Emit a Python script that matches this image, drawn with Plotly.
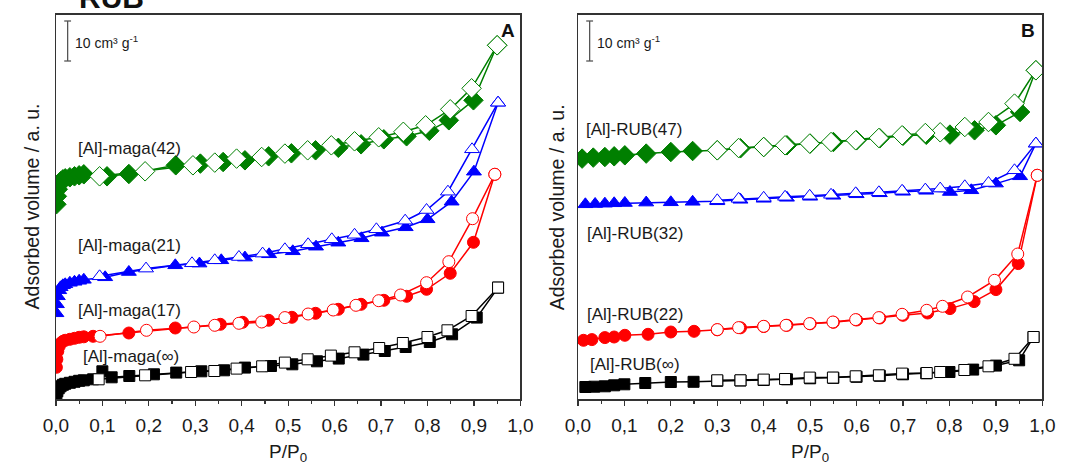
import plotly.graph_objects as go

# ---------------- data (P/P0, adsorbed volume in arbitrary units) ----------------
# Panel A : [Al]-maga samples
A_INF_ADS_P = [0.001,0.003,0.006,0.01,0.015,0.02,0.03,0.04,0.05,0.06,0.08,0.10,0.12,0.158,0.211,0.259,0.313,0.362,0.407,0.463,0.509,0.562,0.609,0.662,0.708,0.753,0.805,0.853,0.906,0.952]
A_INF_ADS_V = [3,8,11,13,14.5,15.5,16.5,17.5,18.5,19,20,28,22,23.3,25,26.7,28,29,31.7,33.3,35,38,40.7,44.7,48.3,52.3,57.3,65,81.7,111.7]
A_INF_DES_P = [0.952,0.895,0.843,0.80,0.747,0.696,0.643,0.592,0.542,0.493,0.444,0.389,0.341,0.291,0.192,0.092]
A_INF_DES_V = [111.7,83.3,69,62.3,56.3,51.3,47,43.7,40,36.7,33,30.7,28.3,27.3,24,20]

A_17_ADS_P = [0.001,0.002,0.004,0.007,0.01,0.015,0.02,0.03,0.04,0.05,0.06,0.08,0.157,0.257,0.354,0.402,0.458,0.508,0.559,0.608,0.657,0.706,0.755,0.798,0.849,0.899,0.945]
A_17_ADS_V = [32,40,48,53,56,58,59,60,61,62,62.5,63,66.3,71.3,75,77,79,82,86,90,95,99,103,110,126,157,225]
A_17_DES_P = [0.945,0.897,0.846,0.798,0.742,0.695,0.646,0.597,0.543,0.493,0.443,0.394,0.342,0.297,0.195,0.095]
A_17_DES_V = [225,180.6,137.6,116.6,104.3,98.6,94,89.3,85.3,81.7,77.3,76,74,72.3,69,63]

A_21_ADS_P = [0.001,0.002,0.004,0.007,0.01,0.015,0.02,0.03,0.04,0.05,0.06,0.106,0.157,0.257,0.309,0.356,0.407,0.459,0.51,0.56,0.608,0.658,0.702,0.753,0.8,0.852,0.9,0.952]
A_21_ADS_V = [86,95,103,109,112,114,115,116.5,117.5,118.5,119.5,122,127.3,134,135.7,139,141.7,145,148,152.6,156.6,161,166.6,172,180,197.6,227.6,296.6]
A_21_DES_P = [0.952,0.896,0.844,0.798,0.752,0.69,0.643,0.594,0.543,0.493,0.445,0.394,0.342,0.293,0.194,0.094]
A_21_DES_V = [296.6,250,207.6,189.3,178.6,170,164.5,160,155,150,145.7,142.3,139,136,130.7,123]

A_42_ADS_P = [0.001,0.002,0.004,0.007,0.01,0.015,0.02,0.03,0.04,0.05,0.06,0.11,0.157,0.258,0.311,0.36,0.407,0.458,0.507,0.559,0.608,0.657,0.706,0.755,0.804,0.846,0.899,0.95]
A_42_ADS_V = [195,203,210,215,218,220,221,222,223,224,225,223,225.3,234,235.7,237.3,239,243,246,249,251.5,255,260,263,268.5,279,299,354]
A_42_DES_P = [0.95,0.895,0.849,0.796,0.748,0.695,0.643,0.593,0.542,0.493,0.443,0.389,0.342,0.295,0.192,0.094]
A_42_DES_V = [354,311,290,274,267.5,262,258,254,249,245.7,242.3,240.7,236.7,234,228,223]

# Panel B : [Al]-RUB samples
B_INF_ADS_P = [0.016,0.035,0.058,0.078,0.1,0.145,0.2,0.249,0.3,0.35,0.4,0.45,0.5,0.55,0.6,0.65,0.7,0.75,0.8,0.851,0.9,0.95,0.981]
B_INF_ADS_V = [12.3,12.6,13,14,15,16.3,17.3,17.5,18.5,18.8,19.3,20,21,21.5,22.5,23.5,25,26,27.3,29.7,33.7,39,62.3]
B_INF_DES_P = [0.981,0.94,0.884,0.832,0.78,0.751,0.698,0.648,0.598,0.549,0.499,0.446,0.4,0.35,0.3]
B_INF_DES_V = [62.3,40.5,33,29.3,27.3,26.3,25.7,24,23,21.7,21.7,20.3,19.7,19,19]

B_22_ADS_P = [0.012,0.03,0.058,0.078,0.101,0.151,0.2,0.25,0.3,0.35,0.4,0.45,0.5,0.55,0.6,0.65,0.7,0.753,0.801,0.853,0.9,0.948,0.989]
B_22_ADS_V = [59,59.7,61.7,62.3,64,65,67.3,68,69.5,71.5,72.8,74,75.5,77,79.3,81.3,84,86.3,90.7,97.7,109.7,135.7,224]
B_22_DES_P = [0.989,0.947,0.897,0.839,0.785,0.751,0.698,0.648,0.598,0.549,0.499,0.448,0.4,0.346,0.3]
B_22_DES_V = [224,145.3,119,102.3,93,89,85,81.7,79.7,77.3,75.7,74,73,71.7,69.7]

B_32_ADS_P = [0.016,0.037,0.058,0.078,0.101,0.147,0.2,0.247,0.3,0.35,0.4,0.45,0.5,0.55,0.6,0.65,0.7,0.75,0.801,0.847,0.9,0.952,0.986]
B_32_ADS_V = [195,195.3,195.6,196,196.3,196.7,197,197.5,198,199.5,200.5,201.5,202.5,203.5,205,206,207.5,208.5,207.3,209,215.7,223,255.7]
B_32_DES_P = [0.986,0.94,0.884,0.833,0.78,0.748,0.698,0.648,0.598,0.545,0.499,0.446,0.4,0.346,0.3]
B_32_DES_V = [255.7,229,216.3,213,210.7,209.7,208.5,207,206,204.5,203.5,202.5,201.5,200.5,199]

B_47_ADS_P = [0.009,0.033,0.058,0.078,0.101,0.147,0.2,0.247,0.3,0.35,0.4,0.45,0.5,0.55,0.6,0.65,0.7,0.75,0.801,0.854,0.9,0.952,0.986]
B_47_ADS_V = [240.7,241.7,242.3,243,244,245.7,247.3,248.3,249,251,252.3,254,255.7,257.3,259,261,263.5,264.5,264.7,269,274,287.3,329]
B_47_DES_P = [0.986,0.94,0.884,0.833,0.78,0.748,0.698,0.648,0.598,0.545,0.499,0.446,0.4,0.346,0.3]
B_47_DES_V = [329,295.7,277.3,272.3,267,266.3,264,261.3,259,257.3,255.7,254,252.3,251.3,249]

X_TICKS = [0.0,0.1,0.2,0.3,0.4,0.5,0.6,0.7,0.8,0.9,1.0]
X_TICK_LABELS = ["0,0","0,1","0,2","0,3","0,4","0,5","0,6","0,7","0,8","0,9","1,0"]
X_MINOR = [0.05,0.15,0.25,0.35,0.45,0.55,0.65,0.75,0.85,0.95]

LABELS_A = ["[Al]-maga(42)", "[Al]-maga(21)", "[Al]-maga(17)", "[Al]-maga(\u221e)"]
LABELS_B = ["[Al]-RUB(47)", "[Al]-RUB(32)", "[Al]-RUB(22)", "[Al]-RUB(\u221e)"]

# ---------------- figure ----------------
W, H = 1070, 464
FONT = "Liberation Sans, Arial, sans-serif"
GREEN, BLUE, RED, BLACK = "#007F00", "#0000FF", "#FF0000", "#000000"

def px(x):
    return x / W

def py(y):
    return 1 - y / H

fig = go.Figure()

def add_pair(ads_p, ads_v, des_p, des_v, color, symbol, size, xa, ya):
    fig.add_trace(go.Scatter(
        x=ads_p, y=ads_v, mode="lines+markers", xaxis=xa, yaxis=ya,
        line=dict(color=color, width=1.5),
        marker=dict(symbol=symbol, size=size, color=color, line=dict(color=color, width=1)),
        showlegend=False, hoverinfo="skip"))
    fig.add_trace(go.Scatter(
        x=des_p, y=des_v, mode="lines+markers", xaxis=xa, yaxis=ya,
        line=dict(color=color, width=1.5),
        marker=dict(symbol=symbol, size=size, color="white", line=dict(color=color, width=1)),
        showlegend=False, hoverinfo="skip"))

# panel A
add_pair(A_INF_ADS_P, A_INF_ADS_V, A_INF_DES_P, A_INF_DES_V, BLACK, "square", 11, "x", "y")
add_pair(A_17_ADS_P, A_17_ADS_V, A_17_DES_P, A_17_DES_V, RED, "circle", 12, "x", "y")
add_pair(A_21_ADS_P, A_21_ADS_V, A_21_DES_P, A_21_DES_V, BLUE, "triangle-up", 13, "x", "y")
add_pair(A_42_ADS_P, A_42_ADS_V, A_42_DES_P, A_42_DES_V, GREEN, "diamond", 15, "x", "y")
# panel B
add_pair(B_INF_ADS_P, B_INF_ADS_V, B_INF_DES_P, B_INF_DES_V, BLACK, "square", 11, "x2", "y2")
add_pair(B_22_ADS_P, B_22_ADS_V, B_22_DES_P, B_22_DES_V, RED, "circle", 12, "x2", "y2")
add_pair(B_32_ADS_P, B_32_ADS_V, B_32_DES_P, B_32_DES_V, BLUE, "triangle-up", 13, "x2", "y2")
add_pair(B_47_ADS_P, B_47_ADS_V, B_47_DES_P, B_47_DES_V, GREEN, "diamond", 15, "x2", "y2")

Y_TOP, Y_BOT = 14.5, 399.3
A_L, A_R = 44, 520
B_L, B_R = 579, 1055
Y_RANGE = [0, Y_BOT - Y_TOP]

xaxis_common = dict(
    range=[0, 1], tickmode="array", tickvals=X_TICKS, ticktext=X_TICK_LABELS,
    ticks="outside", ticklen=5, tickwidth=1.2, tickcolor="#333",
    minor=dict(tickmode="array", tickvals=X_MINOR, ticks="outside", ticklen=3, tickwidth=1.2, tickcolor="#333"),
    showline=True, linecolor="#333", linewidth=1.4, mirror=True,
    showgrid=False, zeroline=False,
    tickfont=dict(family=FONT, size=19, color="#1a1a1a"),
    ticklabelstandoff=3,
)
yaxis_common = dict(
    range=Y_RANGE, showticklabels=False, ticks="",
    showline=True, linecolor="#333", linewidth=1.4, mirror=True,
    showgrid=False, zeroline=False,
)

fig.update_layout(
    width=W, height=H,
    margin=dict(l=0, r=0, t=0, b=0),
    paper_bgcolor="white", plot_bgcolor="white",
    xaxis=dict(domain=[px(A_L), px(A_R)], anchor="y", **xaxis_common),
    yaxis=dict(domain=[py(Y_BOT), py(Y_TOP)], anchor="x", **yaxis_common),
    xaxis2=dict(domain=[px(B_L), px(B_R)], anchor="y2", **xaxis_common),
    yaxis2=dict(domain=[py(Y_BOT), py(Y_TOP)], anchor="x2", **yaxis_common),
    showlegend=False,
)

ann = []
# series labels (data coordinates)
label_pos_A = [(0.044, 251), (0.044, 154), (0.044, 89), (0.053, 43)]
label_pos_B = [(0.012, 269.7), (0.016, 166.3), (0.016, 85), (0.021, 35)]
for txt, (xx, yy) in zip(LABELS_A, label_pos_A):
    ann.append(dict(x=xx, y=yy, xref="x", yref="y", text=txt, showarrow=False,
                    xanchor="left", yanchor="middle", font=dict(family=FONT, size=17, color="#1a1a1a")))
for txt, (xx, yy) in zip(LABELS_B, label_pos_B):
    ann.append(dict(x=xx, y=yy, xref="x2", yref="y2", text=txt, showarrow=False,
                    xanchor="left", yanchor="middle", font=dict(family=FONT, size=17, color="#1a1a1a")))

# axis titles
for cx in [(A_L + A_R) / 2, (B_L + B_R) / 2]:
    ann.append(dict(x=px(cx), y=py(453), xref="paper", yref="paper", text="P/P<sub>0</sub>",
                    showarrow=False, xanchor="center", yanchor="middle",
                    font=dict(family=FONT, size=19, color="#1a1a1a")))
for cx in [19, 557]:
    ann.append(dict(x=px(cx), y=py((Y_TOP + Y_BOT) / 2), xref="paper", yref="paper",
                    text="Adsorbed volume / a. u.", textangle=-90, showarrow=False,
                    xanchor="center", yanchor="middle",
                    font=dict(family=FONT, size=19.5, color="#1a1a1a")))

# panel letters
ann.append(dict(x=px(517), y=py(30), xref="paper", yref="paper", text="<b>A</b>", showarrow=False,
                xanchor="right", yanchor="middle", font=dict(family=FONT, size=19, color="#111")))
ann.append(dict(x=px(1050), y=py(30), xref="paper", yref="paper", text="<b>B</b>", showarrow=False,
                xanchor="right", yanchor="middle", font=dict(family=FONT, size=19, color="#111")))

# cut-off heading at the top
ann.append(dict(x=px(101), y=py(-3), xref="paper", yref="paper", text="<b>RUB</b>", showarrow=False,
                xanchor="center", yanchor="middle", font=dict(family=FONT, size=30, color="#111")))

# scale bars
shapes = []
for bx, tx in [(56, 62), (591, 597)]:
    shapes.append(dict(type="line", xref="paper", yref="paper", x0=px(bx), x1=px(bx), y0=py(21), y1=py(61),
                       line=dict(color="#555", width=1.3)))
    for yy in (21, 61):
        shapes.append(dict(type="line", xref="paper", yref="paper", x0=px(bx - 3.5), x1=px(bx + 3.5),
                           y0=py(yy), y1=py(yy), line=dict(color="#555", width=1.3)))
    ann.append(dict(x=px(tx), y=py(42), xref="paper", yref="paper", text="10 cm\u00b3 g<sup>-1</sup>",
                    showarrow=False, xanchor="left", yanchor="middle",
                    font=dict(family=FONT, size=14, color="#1a1a1a")))

fig.update_layout(annotations=ann, shapes=shapes)

fig.write_html("out.html",
               config={"displayModeBar": False, "staticPlot": True},
               post_script="document.body.style.margin='0';document.body.style.overflow='hidden';")
